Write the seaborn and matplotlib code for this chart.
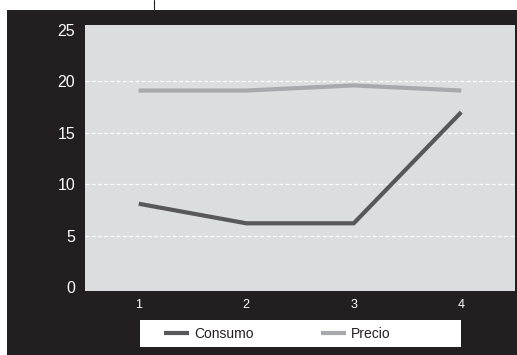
import matplotlib
matplotlib.use("Agg")
import matplotlib.pyplot as plt
import seaborn as sns
import pandas as pd
from matplotlib.patches import Rectangle
from matplotlib.lines import Line2D

# Data
periodos = [1, 2, 3, 4]
consumo = [8.1, 6.2, 6.2, 17.0]
precio = [19.1, 19.1, 19.6, 19.1]
series_names = ["Consumo", "Precio"]
y_ticks = [0, 5, 10, 15, 20, 25]

df = pd.DataFrame({
    "x": periodos * 2,
    "y": consumo + precio,
    "serie": [series_names[0]] * 4 + [series_names[1]] * 4,
})

sns.set_theme(style="white")
plt.rcParams["font.family"] = ["Liberation Sans", "DejaVu Sans"]

W, H = 517, 355
fig = plt.figure(figsize=(W / 100, H / 100), dpi=100, facecolor="white")

# black background panel
fig.patches.append(Rectangle((7 / W, 0), (W - 7) / W, (H - 10) / H,
                             transform=fig.transFigure, facecolor="#231f20",
                             edgecolor="none", zorder=-5))
# small top tick line
fig.lines.append(Line2D([154 / W, 154 / W], [1, 1 - 10 / H],
                        transform=fig.transFigure, color="#231f20", lw=0.8))

ax = fig.add_axes([85 / W, 1 - 291 / H, (515 - 85) / W, (291 - 25) / H])
ax.set_zorder(1)
ax.set_facecolor("#dcdddf")

palette = {"Consumo": "#58585a", "Precio": "#a7a9ac"}
sns.lineplot(data=df, x="x", y="y", hue="serie", palette=palette,
             linewidth=3.0, ax=ax, legend=False)
for ln in ax.lines:
    ln.set_solid_capstyle("butt")
    ln.set_solid_joinstyle("miter")

ax.set_xlim(0.5, 4.5)
ax.set_ylim(-0.38, 25.47)
ax.set_xticks(periodos)
ax.set_xticklabels([str(p) for p in periodos])
ax.set_yticks(y_ticks)
ax.set_yticklabels([str(t) for t in y_ticks])
ax.set_xlabel("")
ax.set_ylabel("")
for s in ax.spines.values():
    s.set_visible(False)

for t in y_ticks[1:-1]:
    ax.axhline(t, color="white", lw=0.9, ls=(0, (3, 2)), zorder=0.5)

ax.tick_params(axis="x", length=0, pad=6, labelsize=9, labelcolor="white")
ax.tick_params(axis="y", length=0, pad=7, labelsize=11.5, labelcolor="white")

# legend box
fig.patches.append(Rectangle((140 / W, 1 - 347 / H), (461 - 140) / W, 27 / H,
                             transform=fig.transFigure, facecolor="white",
                             edgecolor="none", zorder=1))
handles = [Line2D([], [], color=palette[n], lw=3.0, solid_capstyle="butt") for n in series_names]
leg = fig.legend(handles, series_names, loc="center left",
                 bbox_to_anchor=(164 / W, 1 - 333.5 / H), frameon=False,
                 ncol=2, fontsize=10, handlelength=1.8, handletextpad=0.4,
                 columnspacing=4.8, borderpad=0, borderaxespad=0)
for t in leg.get_texts():
    t.set_color("#231f20")
leg.set_zorder(2)

fig.savefig("out.png", dpi=100, facecolor="white")
